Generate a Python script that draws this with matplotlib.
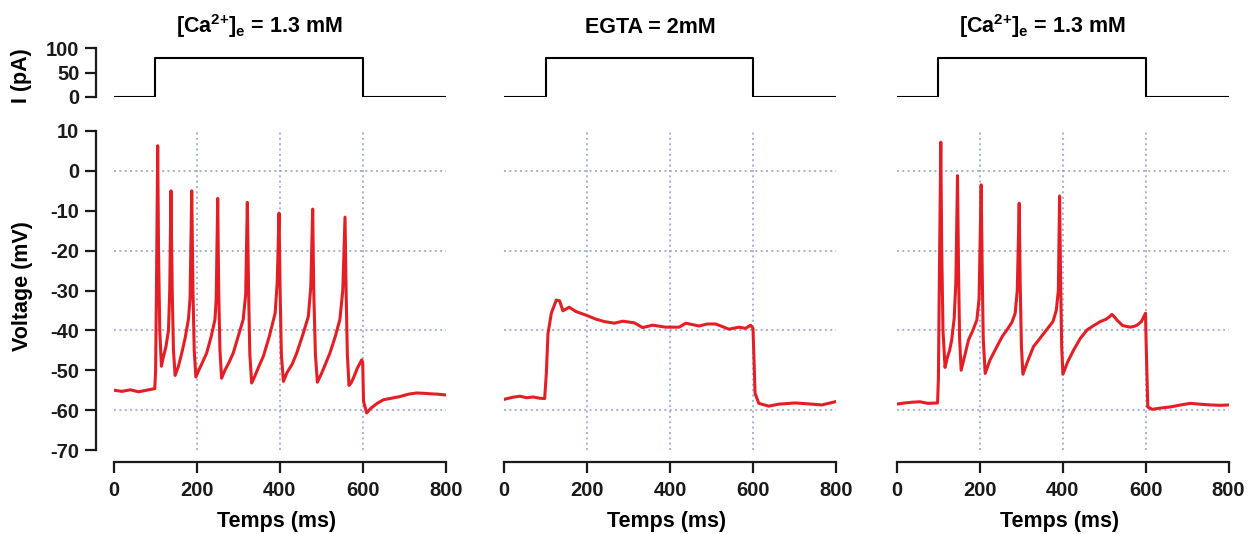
import matplotlib
matplotlib.use('Agg')
import matplotlib.pyplot as plt

# --- data ---
titles = ['[Ca$^{2{+}}$]$_{e}$ = 1.3 mM', 'EGTA = 2mM', '[Ca$^{2{+}}$]$_{e}$ = 1.3 mM']

# injected current step (pA)
i_t = [0, 100, 100, 600, 600, 800]
i_pa = [0, 0, 80, 80, 0, 0]

# control, [Ca2+]e = 1.3 mM
t1 = [0, 20, 40, 60, 80, 99, 101, 103, 106, 108, 111, 115, 119, 126, 132, 135, 138, 141, 144, 148,
      156, 164, 172, 180, 184, 188, 191, 194, 198, 205, 214, 224, 235, 244, 247, 250.6, 253, 256, 260,
      268, 278, 288, 300, 312, 318, 322, 325, 328, 332.5, 340, 350, 360.6, 375, 389, 394, 398.4, 401,
      404, 409, 418, 430, 441, 456, 469, 475, 479.5, 482, 486, 490.8, 500, 510, 521, 534, 545, 552,
      557.4, 560, 563, 567, 572, 577.5, 587, 597.6, 600, 602, 609.6, 620, 635, 650, 670, 690, 710,
      730, 750, 762, 780, 800]
v1 = [-55.0, -55.3, -54.9, -55.4, -55.0, -54.6, -50, -30, 6.3, -20, -40, -49.0, -47, -44, -40, -30,
      -5.0, -30, -45, -51.3, -49, -45.7, -42, -37.3, -32, -5.0, -30, -45, -51.7, -50, -48, -45.7,
      -41.5, -37.3, -32, -6.9, -30, -45, -52.0, -50, -48, -45.7, -41.5, -37.3, -31, -7.9, -30, -46,
      -53.2, -51.5, -49, -46.5, -41.5, -35.7, -28, -10.6, -30, -46, -52.8, -50.5, -48.5, -45.7, -41,
      -36.5, -29, -9.6, -30, -46, -53.0, -51, -48.5, -45.7, -41.5, -37.3, -30, -11.6, -30, -46, -53.8,
      -53.2, -52, -49.5, -47.4, -48, -57.8, -60.7, -59.5, -58.3, -57.4, -57.0, -56.6, -56.0, -55.7,
      -55.8, -55.9, -56.0, -56.2]

# EGTA = 2 mM
t2 = [0, 20, 38, 55, 70, 85, 98, 102, 106, 114, 126, 134, 142, 157, 174, 198, 222, 242, 266, 286,
      314, 334, 358, 390, 422, 438, 470, 490, 510, 525, 542, 566, 582, 594, 600, 605, 614, 638, 662,
      702, 742, 766, 798]
v2 = [-57.3, -56.8, -56.5, -56.9, -56.7, -57.0, -57.1, -50.8, -40.8, -35.7, -32.4, -32.6, -35.1,
      -34.2, -35.3, -36.2, -37.2, -37.8, -38.2, -37.7, -38.1, -39.3, -38.7, -39.2, -39.2, -38.2,
      -38.9, -38.4, -38.4, -39.0, -39.7, -39.2, -39.5, -38.7, -39.5, -55.8, -58.3, -59.0, -58.5,
      -58.2, -58.5, -58.7, -57.9]

# back to [Ca2+]e = 1.3 mM
t3 = [0, 20, 40, 57, 75, 99, 101, 103, 106.7, 109, 112, 117, 122, 128, 133, 139, 143, 147, 149.5, 152,
      155.8, 163, 173.5, 184, 193.6, 199, 204, 206.5, 209, 213.7, 225, 241.8, 255, 266, 278, 286, 291,
      295.7, 298, 301, 304.6, 315, 330, 342, 354.5, 368, 377, 385, 390, 393, 395.5, 398, 401, 412, 427,
      443, 459, 475, 491, 505, 513, 519, 525, 531, 545, 563.6, 572, 579.7, 590, 600, 602, 605.5, 616,
      635, 660, 685, 708, 730, 757, 780, 800]
v3 = [-58.5, -58.2, -58.0, -57.9, -58.3, -58.2, -52, -30, 7.2, -20, -40, -49.3, -47, -45, -42.4, -37,
      -28, -1.2, -25, -42, -50, -47, -42.4, -40, -37.4, -32, -3.5, -25, -42, -50.8, -47.5, -44.1,
      -41.5, -39.9, -38, -35.7, -30, -8.1, -28, -44, -51, -48, -44.1, -42.5, -40.8, -39, -37.8, -35,
      -30, -6.3, -28, -44, -51, -48, -44.9, -42, -39.9, -38.8, -37.8, -37.2, -36.6, -36.0, -36.6,
      -37.4, -38.8, -39.2, -39.0, -38.7, -37.8, -35.7, -45, -59.2, -59.8, -59.5, -59.2, -58.7, -58.3,
      -58.5, -58.7, -58.8, -58.7]

traces_t = [t1, t2, t3]
traces_v = [v1, v2, v3]

grid_t = [200, 400, 600]
grid_v = [0, -20, -40, -60]
x_ticks = [0, 200, 400, 600, 800]
v_ticks = [10, 0, -10, -20, -30, -40, -50, -60, -70]
i_ticks = [0, 50, 100]

# --- style ---
plt.rcParams['font.family'] = 'Liberation Sans'
plt.rcParams['font.weight'] = 'bold'
plt.rcParams['axes.unicode_minus'] = False
plt.rcParams['mathtext.fontset'] = 'custom'
plt.rcParams['mathtext.rm'] = 'Liberation Sans:bold'
plt.rcParams['mathtext.it'] = 'Liberation Sans:bold'
plt.rcParams['mathtext.bf'] = 'Liberation Sans:bold'
plt.rcParams['mathtext.sf'] = 'Liberation Sans:bold'
plt.rcParams['mathtext.default'] = 'rm'

W, H = 1256, 534
fig = plt.figure(figsize=(W / 100, H / 100), dpi=100)

lefts = [113.7, 504.0, 896.5]
pw = 332
red = '#e31e25'
gcol = '#8e9dd0'
axcol = '#1a1a1a'

for k in range(3):
    x0 = lefts[k] / W
    axv = fig.add_axes([x0, (H - 450) / H, pw / W, 319 / H])
    axi = fig.add_axes([x0, (H - 97) / H, pw / W, 49 / H])

    # voltage
    for g in grid_t:
        axv.axvline(g, color=gcol, ls=(0, (1.3, 2.2)), lw=1.1, zorder=1)
    for g in grid_v:
        axv.axhline(g, color=gcol, ls=(0, (1.3, 2.2)), lw=1.1, zorder=1)
    axv.plot(traces_t[k], traces_v[k], color=red, lw=2.2, zorder=3, solid_joinstyle='round')
    axv.set_xlim(0, 800)
    axv.set_ylim(-70, 10)
    for s in ['top', 'right']:
        axv.spines[s].set_visible(False)
    axv.spines['bottom'].set_position(('outward', 8.6))
    axv.spines['bottom'].set_bounds(0, 800)
    axv.spines['bottom'].set_linewidth(1.6)
    axv.spines['bottom'].set_color(axcol)
    axv.set_xticks(x_ticks)
    axv.tick_params(axis='x', direction='out', length=8, width=1.6, pad=6,
                    labelsize=14.5, colors=axcol)
    axv.set_xlabel('Temps (ms)', fontsize=15.5, fontweight='bold')
    axv.xaxis.set_label_coords(0.49, -0.19)

    # current
    axi.plot(i_t, i_pa, color='black', lw=1.5)
    axi.set_xlim(0, 800)
    axi.set_ylim(0, 100)
    for s in ['top', 'right', 'bottom']:
        axi.spines[s].set_visible(False)
    axi.set_xticks([])

    if k == 0:
        for ax, ticks, lo, hi in [(axv, v_ticks, -70, 10), (axi, i_ticks, 0, 100)]:
            ax.spines['left'].set_position(('outward', 12.7))
            ax.spines['left'].set_bounds(lo, hi)
            ax.spines['left'].set_linewidth(1.6)
            ax.spines['left'].set_color(axcol)
            ax.set_yticks(ticks)
            ax.tick_params(axis='y', direction='out', length=8, width=1.6, pad=4,
                           labelsize=14.5, colors=axcol)
        axv.set_ylabel('Voltage (mV)', fontsize=15.5, fontweight='bold')
        axv.yaxis.set_label_coords(-0.243, 0.514)
        axi.set_ylabel('I (pA)', fontsize=15.5, fontweight='bold')
        axi.yaxis.set_label_coords(-0.246, 0.44)
    else:
        axv.spines['left'].set_visible(False)
        axi.spines['left'].set_visible(False)
        axv.set_yticks([])
        axi.set_yticks([])

    axi.text(0.44, 1.31, titles[k], transform=axi.transAxes, ha='center', va='baseline',
             fontsize=15.5, fontweight='bold')

fig.savefig('out.png', dpi=100)
